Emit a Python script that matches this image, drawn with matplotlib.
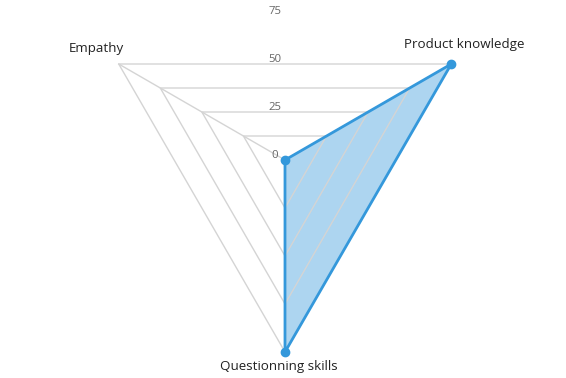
import numpy as np
import matplotlib.pyplot as plt

# data
labels = ['Product knowledge', 'Questionning skills', 'Empathy']
values = [100, 100, 0]
angles_deg = [30, 270, 150]
ticks = [0, 25, 50, 75]
rings = [25, 50, 75, 100]

plt.rcParams['font.family'] = ['Open Sans', 'DejaVu Sans']

line_c = '#3498db'
grid_c = '#d4d4d4'

fig = plt.figure(figsize=(5.66, 3.78), dpi=100)
ax = fig.add_axes([0, 0, 1, 1])
s = 1.92  # px per unit
ax.set_xlim(-285 / s, (566 - 285) / s)
ax.set_ylim(-(378 - 160) / s, 160 / s)
ax.axis('off')

th = np.radians(angles_deg)

# grid rings and spokes
for r in rings:
    xs = r * np.cos(th)
    ys = r * np.sin(th)
    ax.plot(np.append(xs, xs[0]), np.append(ys, ys[0]), color=grid_c, lw=1, zorder=1)
for t in th:
    ax.plot([0, 100 * np.cos(t)], [0, 100 * np.sin(t)], color=grid_c, lw=1, zorder=1)

# tick labels
for v in ticks:
    ax.text(-5.2, v + 2.2, str(v), ha='center', va='center', fontsize=8.2,
            color='#666666', zorder=4)

# data
v = np.array(values)
px = v * np.cos(th)
py = v * np.sin(th)
ax.fill(px, py, color=line_c, alpha=0.4, lw=0, zorder=0)
ax.plot(np.append(px, px[0]), np.append(py, py[0]), color=line_c, lw=2, zorder=3)
ax.plot(px, py, 'o', color=line_c, ms=6, zorder=5)

# axis labels
offs = {'Product knowledge': (7, 10), 'Questionning skills': (-3, -7.5), 'Empathy': (-11.5, 8)}
for lab, t in zip(labels, th):
    dx, dy = offs[lab]
    ax.text(100 * np.cos(t) + dx, 100 * np.sin(t) + dy, lab, ha='center', va='center',
            fontsize=9.6, color='#222222')

plt.savefig('out.png', dpi=100)
